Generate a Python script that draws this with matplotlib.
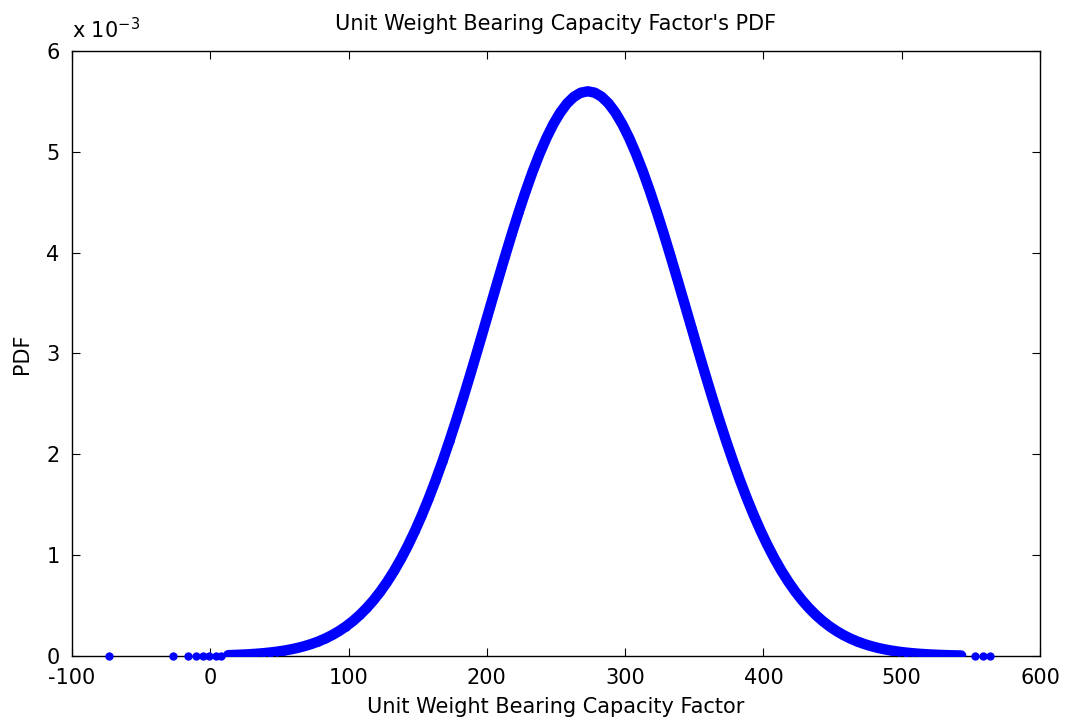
import matplotlib
matplotlib.use("Agg")
import matplotlib.pyplot as plt

plt.rcParams['font.family'] = ['DejaVu Sans']
plt.rcParams['mathtext.fontset'] = 'custom'
plt.rcParams['mathtext.rm'] = 'DejaVu Sans'

# Dense part of the sampled curve (x, PDF in units of 1e-3)
x_curve = [13, 18, 23, 28, 33, 38, 43, 48, 53, 58, 63, 68, 73, 78, 83, 88, 93, 98,
           103, 108, 113, 118, 123, 128, 133, 138, 143, 148, 153, 158, 163, 168, 173,
           178, 183, 188, 193, 198, 203, 208, 213, 218, 223, 228, 233, 238, 243, 248,
           253, 258, 263, 268, 273, 278, 283, 288, 293, 298, 303, 308, 313, 318, 323,
           328, 333, 338, 343, 348, 353, 358, 363, 368, 373, 378, 383, 388, 393, 398,
           403, 408, 413, 418, 423, 428, 433, 438, 443, 448, 453, 458, 463, 468, 473,
           478, 483, 488, 493, 498, 503, 508, 513, 518, 523, 528, 533, 538, 543]
pdf_curve = [0.0082, 0.0106, 0.0135, 0.0171, 0.0217, 0.0272, 0.0340, 0.0424, 0.0526,
             0.0649, 0.0796, 0.0973, 0.1182, 0.1430, 0.1723, 0.2064, 0.2461, 0.2920,
             0.3448, 0.4053, 0.4741, 0.5519, 0.6393, 0.7371, 0.8455, 0.9654, 1.0972,
             1.2408, 1.3964, 1.5640, 1.7433, 1.9337, 2.1346, 2.3451, 2.5638, 2.7896,
             3.0207, 3.2551, 3.4909, 3.7257, 3.9572, 4.1829, 4.4001, 4.6064, 4.7992,
             4.9759, 5.1344, 5.2724, 5.3881, 5.4798, 5.5462, 5.5865, 5.6000,
             5.5865, 5.5462, 5.4798, 5.3881, 5.2724, 5.1344, 4.9759, 4.7992, 4.6064,
             4.4001, 4.1829, 3.9572, 3.7257, 3.4909, 3.2551, 3.0207, 2.7896, 2.5638,
             2.3451, 2.1346, 1.9337, 1.7433, 1.5640, 1.3964, 1.2408, 1.0972, 0.9654,
             0.8455, 0.7371, 0.6393, 0.5519, 0.4741, 0.4053, 0.3448, 0.2920, 0.2461,
             0.2064, 0.1723, 0.1430, 0.1182, 0.0973, 0.0796, 0.0649, 0.0526, 0.0424,
             0.0340, 0.0272, 0.0217, 0.0171, 0.0135, 0.0106, 0.0082, 0.0064, 0.0049]

# Isolated tail samples
x_tail = [-73, -27, -16, -10, -5, -1, 4, 8, 553, 559, 564]
pdf_tail = [0.0000, 0.0003, 0.0005, 0.0007, 0.0009, 0.0011, 0.0015, 0.0018,
            0.0011, 0.0008, 0.0007]

x_ticks = [-100, 0, 100, 200, 300, 400, 500, 600]
y_ticks = [0, 1, 2, 3, 4, 5, 6]

FS = 15

fig = plt.figure(figsize=(10.65, 7.23), dpi=100)
ax = fig.add_axes([0.0676, 0.0927, 0.9089, 0.8368])

blue = '#0000ff'
ax.plot(x_curve, [v * 1e-3 for v in pdf_curve], '-', color=blue, lw=7.5,
        solid_capstyle='round', solid_joinstyle='round', zorder=3)
ax.plot(x_curve, [v * 1e-3 for v in pdf_curve], 'o', color=blue, ms=6.0,
        mec='none', zorder=3)
ax.plot(x_tail, [v * 1e-3 for v in pdf_tail], 'o', color=blue, ms=6.0,
        mec='none', zorder=3, clip_on=False)

ax.set_xlim(-100, 600)
ax.set_ylim(0, 6e-3)
ax.set_xticks(x_ticks)
ax.set_xticklabels([str(t) for t in x_ticks])
ax.set_yticks([t * 1e-3 for t in y_ticks])
ax.set_yticklabels([str(t) for t in y_ticks])

ax.tick_params(direction='in', top=True, right=True, length=6, width=0.8,
               labelsize=FS, colors='#000000')
ax.tick_params(axis='x', pad=9)
ax.tick_params(axis='y', pad=9)
for s in ax.spines.values():
    s.set_linewidth(1.0)
    s.set_color('#000000')

ax.set_title("Unit Weight Bearing Capacity Factor's PDF", fontsize=FS, pad=15)
ax.set_xlabel('Unit Weight Bearing Capacity Factor', fontsize=FS, labelpad=6)
ax.set_ylabel('PDF', fontsize=FS, labelpad=10)

ax.text(0.0, 1.015, r'x 10$^{\mathregular{-3}}$', transform=ax.transAxes,
        fontsize=FS, ha='left', va='bottom')

fig.savefig('out.png', dpi=100)
